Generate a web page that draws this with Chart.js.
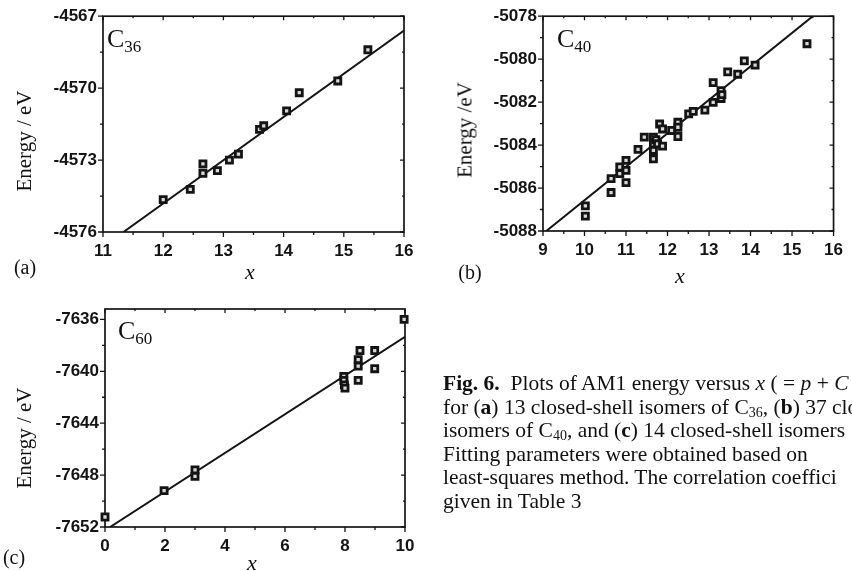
<!DOCTYPE html>
<html><head><meta charset="utf-8">
<script src="https://cdn.jsdelivr.net/npm/chart.js@4/dist/chart.umd.min.js"></script>
<style>
html,body{margin:0;padding:0;background:#fff;}
#wrap{position:relative;width:852px;height:571px;overflow:hidden;background:#fff;}
canvas{position:absolute;left:0;top:0;pointer-events:none;}
.t{position:absolute;font-family:"Liberation Serif","Times New Roman",serif;color:#111;white-space:nowrap;line-height:1;}
.c{transform:translate(-50%,-50%);}
.yt{transform:translate(-50%,-50%) rotate(-90deg);font-size:21px;}
.xt{font-style:italic;font-size:22px;}
.pl{font-size:20px;}
.cl{font-size:26px;line-height:26px;}
.cl sub{font-size:17px;vertical-align:-5px;line-height:0;}
#cap{position:absolute;left:443px;top:372px;width:409px;overflow:hidden;white-space:nowrap;font-family:"Liberation Serif","Times New Roman",serif;font-size:21.5px;line-height:23.5px;color:#111;}
#cap sub{font-size:14px;vertical-align:-3px;line-height:0;}
</style></head><body>
<div id="wrap">
<canvas id="ca" width="852" height="600"></canvas>
<canvas id="cb" width="852" height="600"></canvas>
<canvas id="cc" width="852" height="600"></canvas>

<div class="t c yt" style="left:24px;top:141px;">Energy / eV</div>
<div class="t c yt" style="left:465px;top:130px;">Energy /eV</div>
<div class="t c yt" style="left:24px;top:438px;">Energy / eV</div>
<div class="t c xt" style="left:250px;top:272px;">x</div>
<div class="t c xt" style="left:680px;top:276px;">x</div>
<div class="t c xt" style="left:252px;top:563px;">x</div>
<div class="t c pl" style="left:25px;top:267px;">(a)</div>
<div class="t c pl" style="left:470px;top:272px;">(b)</div>
<div class="t c pl" style="left:14px;top:557px;">(c)</div>
<div class="t cl" style="left:107px;top:26px;">C<sub>36</sub></div>
<div class="t cl" style="left:557px;top:26px;">C<sub>40</sub></div>
<div class="t cl" style="left:118px;top:318px;">C<sub>60</sub></div>

<div id="cap">
<div><b>Fig. 6.</b>&nbsp; Plots of AM1 energy versus <i>x</i> ( = <i>p</i> + <i>C</i></div>
<div>for (<b>a</b>) 13 closed-shell isomers of C<sub>36</sub>, (<b>b</b>) 37 clos</div>
<div>isomers of C<sub>40</sub>, and (<b>c</b>) 14 closed-shell isomers</div>
<div>Fitting parameters were obtained based on</div>
<div>least-squares method. The correlation coeffici</div>
<div>given in Table 3</div>
</div>
</div>

<script>
// ---- (a) C36 ----
const c36X = [12.0, 12.45, 12.66, 12.66, 12.9, 13.1, 13.25, 13.6, 13.67, 14.05, 14.26, 14.9, 15.4];
const c36E = [-4574.65, -4574.22, -4573.16, -4573.55, -4573.44, -4573.0, -4572.75, -4571.72, -4571.57, -4570.95, -4570.19, -4569.7, -4568.4];
const c36FitX = [11.34, 16];
const c36FitE = [-4576, -4567.6];
const c36XTicks = [11, 12, 13, 14, 15, 16];
const c36XMinor = [11.5, 12.5, 13.5, 14.5, 15.5];
const c36YTicks = [-4576, -4573, -4570, -4567];
const c36YMinor = [-4574.5, -4571.5, -4568.5];

// ---- (b) C40 ----
const c40X = [10.02, 10.02, 10.64, 10.64, 10.85, 10.85, 11.0, 11.0, 11.0, 11.29, 11.44, 11.66, 11.66, 11.66, 11.66, 11.72, 11.76, 11.81, 11.88, 11.88, 12.1, 12.25, 12.25, 12.25, 12.51, 12.62, 12.9, 13.1, 13.1, 13.29, 13.29, 13.31, 13.45, 13.69, 13.85, 14.11, 15.36];
const c40E = [-5086.83, -5087.31, -5085.56, -5086.21, -5085.02, -5085.33, -5084.71, -5085.18, -5085.75, -5084.2, -5083.63, -5083.63, -5083.94, -5084.25, -5084.64, -5083.75, -5083.94, -5083.02, -5083.25, -5084.05, -5083.32, -5082.94, -5083.17, -5083.6, -5082.55, -5082.43, -5082.37, -5081.09, -5082.01, -5081.47, -5081.83, -5081.65, -5080.59, -5080.7, -5080.08, -5080.28, -5079.28];
const c40FitX = [9.08, 15.5];
const c40FitE = [-5088, -5078];
const c40XTicks = [9, 10, 11, 12, 13, 14, 15, 16];
const c40XMinor = [9.5, 10.5, 11.5, 12.5, 13.5, 14.5, 15.5];
const c40YTicks = [-5088, -5086, -5084, -5082, -5080, -5078];
const c40YMinor = [-5087, -5085, -5083, -5081, -5079];

// ---- (c) C60 ----
const c60X = [0.0, 1.97, 3.0, 3.0, 7.96, 7.96, 7.98, 8.0, 8.44, 8.44, 8.44, 8.5, 8.99, 8.99, 9.97];
const c60E = [-7651.23, -7649.2, -7647.6, -7648.1, -7640.4, -7640.7, -7641.05, -7641.3, -7639.1, -7639.6, -7640.7, -7638.4, -7638.4, -7639.8, -7636.0];
const c60FitX = [0.17, 10];
const c60FitE = [-7652, -7637.34];
const c60XTicks = [0, 2, 4, 6, 8, 10];
const c60XMinor = [1, 3, 5, 7, 9];
const c60YTicks = [-7652, -7648, -7644, -7640, -7636];
const c60YMinor = [-7650, -7646, -7642, -7638];

const CW = 852, CH = 600, YW = 60, XH = 40;
const INK = '#141414';

const framePlugin = {
  id: 'frame',
  beforeDatasetsDraw(chart) {
    const {ctx, chartArea: a, scales: {x, y}} = chart;
    const o = chart.options.plugins.frame;
    ctx.save();
    ctx.strokeStyle = INK;
    ctx.lineWidth = 1.7;
    ctx.strokeRect(a.left, a.top, a.right - a.left, a.bottom - a.top);
    ctx.lineWidth = 1.3;
    ctx.beginPath();
    const vt = (vals, len) => vals.forEach(v => {
      const px = x.getPixelForValue(v);
      ctx.moveTo(px, a.bottom); ctx.lineTo(px, a.bottom + len);
      ctx.moveTo(px, a.top); ctx.lineTo(px, a.top + len - 1);
    });
    const ht = (vals, len) => vals.forEach(v => {
      const py = y.getPixelForValue(v);
      ctx.moveTo(a.left - len, py); ctx.lineTo(a.left, py);
      ctx.moveTo(a.right, py); ctx.lineTo(a.right - len + 1, py);
    });
    vt(o.xMajor, 5); vt(o.xMinor, 3);
    ht(o.yMajor, 5); ht(o.yMinor, 3);
    ctx.stroke();
    ctx.restore();
  }
};

function pts(xs, ys) { return xs.map((v, i) => ({x: v, y: ys[i]})); }

function panel(id, cfg) {
  const tickFont = {family: '"Liberation Sans", Arial, sans-serif', size: 17, weight: 'bold'};
  new Chart(document.getElementById(id), {
    type: 'scatter',
    data: {
      datasets: [
        {type: 'line', data: pts(cfg.fitX, cfg.fitE), borderColor: INK, borderWidth: 2, pointRadius: 0, fill: false, tension: 0, order: 1},
        {data: pts(cfg.xs, cfg.ys), pointStyle: 'rect', pointRadius: 4.3, backgroundColor: '#d8d8d8', borderColor: INK, borderWidth: 2.8, order: 0, clip: false}
      ]
    },
    options: {
      responsive: false, animation: false, events: [],
      layout: {padding: {left: cfg.left - YW, right: CW - cfg.right, top: cfg.top, bottom: CH - cfg.bottom - XH}},
      plugins: {legend: {display: false}, tooltip: {enabled: false},
        frame: {xMajor: cfg.xTicks, xMinor: cfg.xMinor, yMajor: cfg.yTicks, yMinor: cfg.yMinor}},
      scales: {
        x: {type: 'linear', min: cfg.xMin, max: cfg.xMax, offset: false,
          grid: {display: false, drawTicks: false}, border: {display: false},
          afterBuildTicks: s => { s.ticks = cfg.xTicks.map(v => ({value: v})); },
          afterFit: s => { s.height = XH; },
          ticks: {font: tickFont, color: INK, padding: 9, maxRotation: 0, autoSkip: false, callback: v => String(v)}},
        y: {type: 'linear', min: cfg.yMin, max: cfg.yMax,
          grid: {display: false, drawTicks: false}, border: {display: false},
          afterBuildTicks: s => { s.ticks = cfg.yTicks.map(v => ({value: v})); },
          afterFit: s => { s.width = YW; },
          ticks: {font: tickFont, color: INK, padding: 6, autoSkip: false, callback: v => String(v)}}
      }
    },
    plugins: [framePlugin]
  });
}

panel('ca', {xs: c36X, ys: c36E, fitX: c36FitX, fitE: c36FitE,
  xTicks: c36XTicks, xMinor: c36XMinor, yTicks: c36YTicks, yMinor: c36YMinor,
  xMin: 11, xMax: 16, yMin: -4576, yMax: -4567,
  left: 103, right: 404, top: 15, bottom: 232});
panel('cb', {xs: c40X, ys: c40E, fitX: c40FitX, fitE: c40FitE,
  xTicks: c40XTicks, xMinor: c40XMinor, yTicks: c40YTicks, yMinor: c40YMinor,
  xMin: 9, xMax: 16, yMin: -5088, yMax: -5078,
  left: 543, right: 839, top: 15, bottom: 231});
panel('cc', {xs: c60X, ys: c60E, fitX: c60FitX, fitE: c60FitE,
  xTicks: c60XTicks, xMinor: c60XMinor, yTicks: c60YTicks, yMinor: c60YMinor,
  xMin: 0, xMax: 10, yMin: -7652, yMax: -7635.2,
  left: 105, right: 405, top: 309, bottom: 527});
</script>
</body></html>
